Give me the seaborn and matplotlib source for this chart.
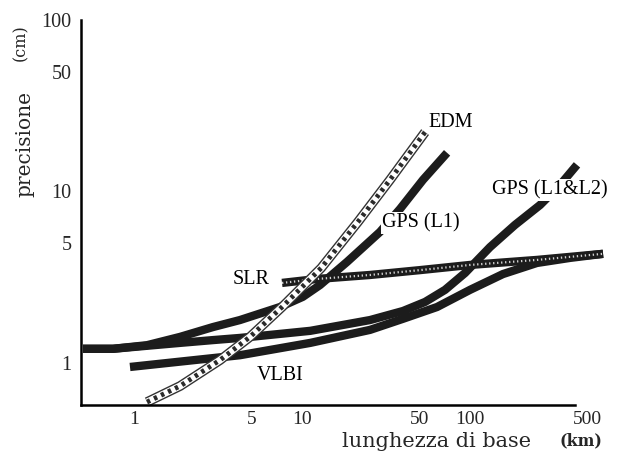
import matplotlib
matplotlib.use("Agg")
import matplotlib.pyplot as plt
import seaborn as sns
from matplotlib.ticker import FixedLocator, FixedFormatter, NullLocator

#================================
# DATA
#================================
gps_l1_x = [0.497, 0.750, 1.195, 1.88, 2.95, 4.27, 7.39, 10.1, 12.8, 18.5,
            29.1, 38.3, 52.5, 73.0]
gps_l1_y = [1.21, 1.21, 1.27, 1.42, 1.62, 1.78, 2.12, 2.43, 2.85, 3.88,
            5.81, 7.91, 11.7, 16.8]

gps_l12_x = [0.497, 0.750, 1.195, 1.88, 2.95, 4.27, 11.2, 25.4, 39.9, 54.0,
             71.0, 93.4, 131.5, 185, 261, 343, 433]
gps_l12_y = [1.21, 1.21, 1.26, 1.31, 1.36, 1.40, 1.54, 1.78, 2.01, 2.27,
             2.67, 3.35, 4.74, 6.38, 8.34, 10.9, 14.3]

vlbi_x = [0.946, 4.27, 11.2, 25.4, 39.9, 63.6, 100, 157, 250, 394, 619]
vlbi_y = [0.948, 1.11, 1.31, 1.56, 1.81, 2.12, 2.67, 3.30, 3.83, 4.10, 4.33]

slr_x = [7.60, 12.3, 25.4, 50.4, 100, 250, 619]
slr_y = [2.93, 3.09, 3.26, 3.48, 3.73, 3.99, 4.33]

edm_x = [1.195, 1.88, 3.25, 4.90, 7.60, 13.0, 21.5, 33.4, 54.0]
edm_y = [0.592, 0.734, 1.04, 1.42, 2.12, 3.58, 6.64, 11.7, 22.2]

x_ticks = [1, 5, 10, 50, 100, 500]
y_ticks = [1, 5, 10, 50, 100]

#================================
# FIGURE
#================================
sns.set_style("white")
plt.rcParams["font.family"] = ["Liberation Serif", "DejaVu Serif"]

fig = plt.figure(figsize=(6.19, 4.57), dpi=100)
ax = fig.add_axes([0.1309, 0.1138, 0.8546, 0.8425])
ax.set_xscale("log")
ax.set_yscale("log")

dark = "#1c1c1c"
solid = dict(ax=ax, color=dark, lw=6, sort=False, estimator=None,
             solid_capstyle="butt", legend=False)

sns.lineplot(x=vlbi_x, y=vlbi_y, **solid)
sns.lineplot(x=gps_l12_x, y=gps_l12_y, **solid)
sns.lineplot(x=gps_l1_x, y=gps_l1_y, **solid)

# SLR: dark band with light dots
sns.lineplot(x=slr_x, y=slr_y, **solid)
sns.lineplot(x=slr_x, y=slr_y, ax=ax, color="#d0d0d0", lw=1.6, sort=False,
             estimator=None, linestyle=(0, (0.6, 1.2)), legend=False)

# EDM: white band with dark wavy hatching
sns.lineplot(x=edm_x, y=edm_y, ax=ax, color="#333333", lw=7, sort=False,
             estimator=None, solid_capstyle="butt", legend=False)
sns.lineplot(x=edm_x, y=edm_y, ax=ax, color="white", lw=5, sort=False,
             estimator=None, solid_capstyle="butt", legend=False)
sns.lineplot(x=edm_x, y=edm_y, ax=ax, color="#2a2a2a", lw=3.5, sort=False,
             estimator=None, linestyle=(0, (0.7, 0.9)), legend=False)

#================================
# LABELS ON CURVES
#================================
lab = dict(fontsize=14.5, color="black", zorder=10)
box = dict(fc="white", ec="none", pad=1)
ax.text(56.2, 25.1, "EDM", ha="left", va="center", **lab)
ax.text(29.9, 6.55, "GPS (L1)", ha="left", va="center", bbox=box, **lab)
ax.text(135, 10.2, "GPS (L1&L2)", ha="left", va="center", bbox=box, **lab)
ax.text(6.45, 3.05, "SLR", ha="right", va="center", **lab)
ax.text(5.40, 0.85, "VLBI", ha="left", va="center", **lab)

#================================
# AXES
#================================
ax.set_xlim(0.4836, 681)
ax.set_ylim(0.569, 100)

ax.xaxis.set_major_locator(FixedLocator(x_ticks))
ax.xaxis.set_major_formatter(FixedFormatter([str(t) for t in x_ticks]))
ax.xaxis.set_minor_locator(NullLocator())
ax.yaxis.set_major_locator(FixedLocator(y_ticks))
ax.yaxis.set_major_formatter(FixedFormatter([str(t) for t in y_ticks]))
ax.yaxis.set_minor_locator(NullLocator())

ax.tick_params(axis="x", direction="in", length=7, width=1.3, pad=4,
               labelsize=14, color="black")
ax.tick_params(axis="y", direction="in", length=13, width=1.3, pad=7,
               labelsize=14.5, color="black")

for side in ["top", "right"]:
    ax.spines[side].set_visible(False)
for side in ["left", "bottom"]:
    ax.spines[side].set_linewidth(1.8)
    ax.spines[side].set_color("black")
ax.spines["bottom"].set_bounds(0.4836, 422)

# axis titles
fig.text(0.040, 0.685, "precisione", rotation=90, ha="center", va="center",
         fontsize=14.5, family="DejaVu Serif")
fig.text(0.034, 0.906, "(cm)", rotation=90, ha="center", va="center",
         fontsize=11.5, family="DejaVu Serif")
fig.text(0.705, 0.033, "lunghezza di base", ha="center", va="center",
         fontsize=15, family="DejaVu Serif")
fig.text(0.939, 0.036, "(km)", ha="center", va="center",
         fontsize=11.5, family="DejaVu Serif", weight="bold")

fig.savefig("out.png", dpi=100)
